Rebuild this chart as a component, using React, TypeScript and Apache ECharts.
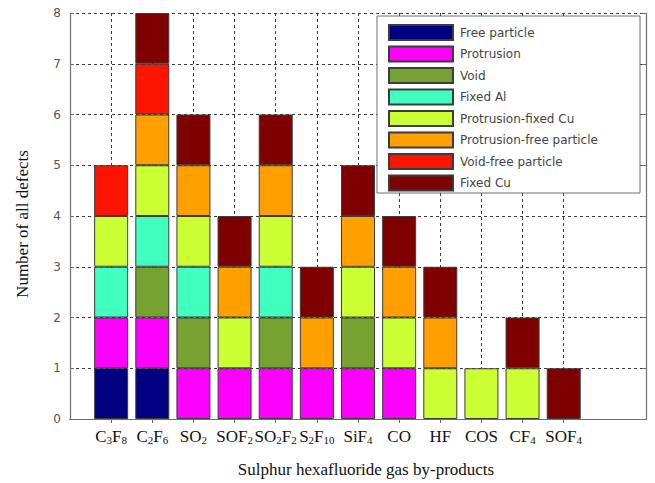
import React, { useEffect, useRef } from "react";
import * as echarts from "echarts";

// Gas by-products, in plotting order (digits are drawn as subscripts)
const gases = ["C3F8", "C2F6", "SO2", "SOF2", "SO2F2", "S2F10", "SiF4", "CO", "HF", "COS", "CF4", "SOF4"];

// Defect counts per gas for each defect type (null = not observed)
const freeParticle = [1, 1, null, null, null, null, null, null, null, null, null, null];
const protrusion = [1, 1, 1, 1, 1, 1, 1, 1, null, null, null, null];
const voidDefect = [null, 1, 1, null, 1, null, 1, null, null, null, null, null];
const fixedAl = [1, 1, 1, null, 1, null, null, null, null, null, null, null];
const protrusionFixedCu = [1, 1, 1, 1, 1, null, 1, 1, 1, 1, 1, null];
const protrusionFreeParticle = [null, 1, 1, 1, 1, 1, 1, 1, 1, null, null, null];
const voidFreeParticle = [1, 1, null, null, null, null, null, null, null, null, null, null];
const fixedCu = [null, 1, 1, 1, 1, 1, 1, 1, 1, null, 1, 1];

const defectNames = [
  "Free particle",
  "Protrusion",
  "Void",
  "Fixed Al",
  "Protrusion-fixed Cu",
  "Protrusion-free particle",
  "Void-free particle",
  "Fixed Cu",
];
const defectValues = [
  freeParticle,
  protrusion,
  voidDefect,
  fixedAl,
  protrusionFixedCu,
  protrusionFreeParticle,
  voidFreeParticle,
  fixedCu,
];
const defectColors = ["#000080", "#ff00ff", "#76a232", "#40ffbf", "#ccff33", "#ffa000", "#ff1400", "#7f0000"];

const yTicks = [0, 1, 2, 3, 4, 5, 6, 7, 8];

const serif = "'Liberation Serif', 'Times New Roman', serif";
const sans = "'DejaVu Sans', sans-serif";

// x runs from 0 to gases.length + 2; gas i sits at slot i + 1, the other slots stay empty
const xMax = gases.length + 2;
const slots = Array.from({ length: xMax + 1 }, (_, i) => (i >= 1 && i <= gases.length ? gases[i - 1] : `_${i}`));
const isGasSlot = (i: number) => i >= 1 && i <= gases.length;

function gasLabel(name: string): string {
  return name.replace(/(\D+)|(\d+)/g, (m, letters) => (letters ? `{n|${m}}` : `{s|${m}}`));
}

export default function App() {
  const ref = useRef<HTMLDivElement>(null);

  useEffect(() => {
    if (!ref.current) return;
    const chart = echarts.init(ref.current, null, { renderer: "svg" });
    const axisGray = "#6e6e6e";
    const dotted = { color: "#3a3a3a", type: [3, 3] as any, width: 1 };

    chart.setOption({
      animation: false,
      backgroundColor: "#ffffff",
      grid: { left: 70, right: 9, top: 13, bottom: 64 },
      legend: {
        orient: "vertical",
        left: 388,
        top: 24,
        padding: 0,
        itemWidth: 64,
        itemHeight: 15,
        itemGap: 4.5,
        icon: "rect",
        selectedMode: false,
        z: 6,
        textStyle: { fontFamily: sans, fontSize: 12, lineHeight: 15, color: "#444", padding: [0, 0, 0, 2] },
        data: defectNames,
      },
      graphic: [
        {
          type: "rect",
          z: 5,
          shape: { x: 377, y: 16, width: 263, height: 177 },
          style: { fill: "#ffffff", stroke: "#6e6e6e", lineWidth: 1 },
        },
        {
          type: "text",
          x: 366,
          y: 469,
          style: {
            text: "Sulphur hexafluoride gas by-products",
            font: `17px ${serif}`,
            fill: "#111",
            align: "center",
            verticalAlign: "middle",
          },
        },
        {
          type: "text",
          x: 22,
          y: 224,
          rotation: Math.PI / 2,
          style: {
            text: "Number of all defects",
            font: `17px ${serif}`,
            fill: "#111",
            align: "center",
            verticalAlign: "middle",
          },
        },
      ],
      xAxis: [
        {
          type: "category",
          boundaryGap: false,
          data: slots,
          axisLine: { show: true, lineStyle: { color: axisGray, width: 1.2 } },
          axisTick: { show: true, inside: true, length: 4, interval: (i: number) => isGasSlot(i), lineStyle: { color: axisGray } },
          splitLine: { show: true, interval: (i: number) => isGasSlot(i), lineStyle: dotted },
          axisLabel: {
            margin: 6,
            interval: (i: number) => isGasSlot(i),
            formatter: (v: string) => (gases.includes(v) ? gasLabel(v) : ""),
            rich: {
              n: { fontFamily: serif, fontSize: 17, color: "#111", lineHeight: 20, verticalAlign: "bottom" },
              s: { fontFamily: serif, fontSize: 11, color: "#111", lineHeight: 10, verticalAlign: "bottom" },
            },
          },
        },
        {
          type: "category",
          position: "top",
          boundaryGap: false,
          data: slots,
          axisLine: { show: true, lineStyle: { color: axisGray, width: 1.2 } },
          axisTick: { show: true, inside: true, length: 4, interval: (i: number) => isGasSlot(i), lineStyle: { color: axisGray } },
          axisLabel: { show: false },
          splitLine: { show: false },
        },
      ],
      yAxis: [
        {
          type: "value",
          min: yTicks[0],
          max: yTicks[yTicks.length - 1],
          interval: 1,
          axisLine: { show: true, lineStyle: { color: axisGray, width: 1.2 } },
          axisTick: { show: true, inside: true, length: 4, lineStyle: { color: axisGray } },
          splitLine: { show: true, lineStyle: dotted },
          axisLabel: { margin: 9, fontFamily: sans, fontSize: 12, color: "#555" },
        },
        {
          type: "value",
          position: "right",
          min: yTicks[0],
          max: yTicks[yTicks.length - 1],
          interval: 1,
          axisLine: { show: true, lineStyle: { color: axisGray, width: 1.2 } },
          axisTick: { show: true, inside: true, length: 4, lineStyle: { color: axisGray } },
          axisLabel: { show: false },
          splitLine: { show: false },
        },
      ],
      series: defectNames.map((name, k) => ({
        name,
        type: "bar",
        stack: "defects",
        barWidth: 34,
        xAxisIndex: 0,
        yAxisIndex: 0,
        itemStyle: { color: defectColors[k], borderColor: "#3c3c3c", borderWidth: 1 },
        data: slots.map((_, i) => {
          const v = isGasSlot(i) ? defectValues[k][i - 1] : null;
          return v === null ? "-" : v;
        }),
      })),
    });

    return () => chart.dispose();
  }, []);

  return <div ref={ref} style={{ position: "absolute", left: 0, top: 0, width: 655, height: 483 }} />;
}
